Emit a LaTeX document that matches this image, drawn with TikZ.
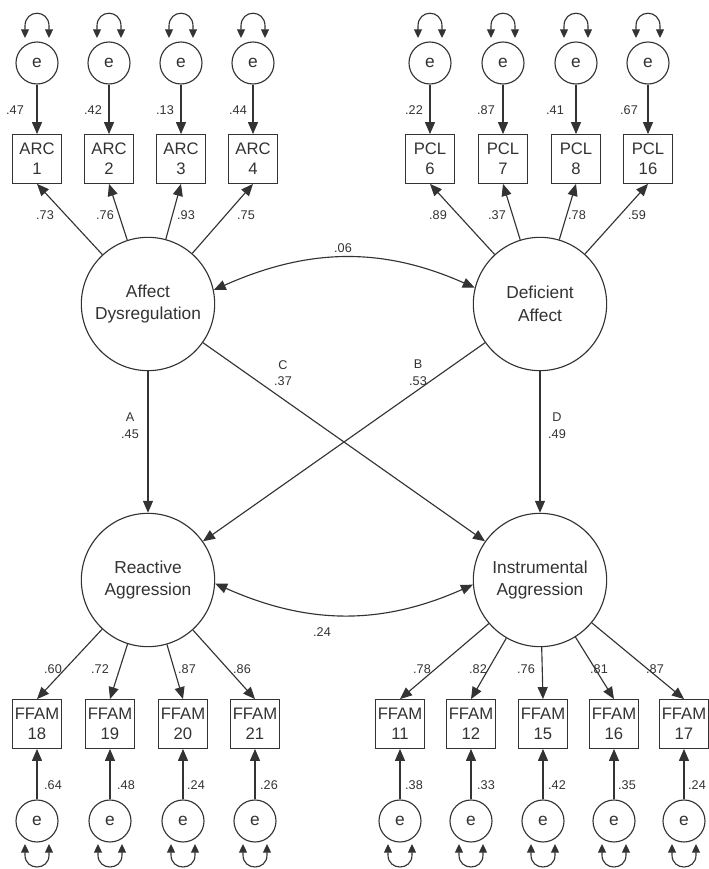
\documentclass[tikz,border=0pt]{standalone}
\usepackage{fontspec}
\setmainfont{Liberation Sans}
\usetikzlibrary{arrows.meta}
\begin{document}
\begin{tikzpicture}[x=0.75pt,y=0.75pt,
  line width=0.85pt, color=black!80,
  lat/.style={circle,draw,minimum size=100pt,inner sep=0pt,align=center,font=\fontsize{13}{17}\selectfont},
  errc/.style={circle,draw,minimum size=31.5pt,inner sep=0pt,font=\fontsize{13}{15}\selectfont},
  obs/.style={rectangle,draw,minimum width=36.5pt,minimum height=36.5pt,inner sep=0pt,align=center,font=\fontsize{12.5}{15}\selectfont},
  num/.style={font=\fontsize{9.5}{12.5}\selectfont,inner sep=1pt,align=center},
  arr/.style={-{Triangle[length=9pt,width=7.5pt]}},
  dbl/.style={{Triangle[length=9pt,width=7.5pt]}-{Triangle[length=9pt,width=7.5pt]}},
  loopar/.style={{Triangle[length=6.5pt,width=6pt]}-{Triangle[length=6.5pt,width=6pt]}}
]
\fill[white] (0,0) rectangle (709,869);
\useasboundingbox (0,0) rectangle (709,869);

% latent variables
\node[lat] (ad) at (148,565) {Affect\\Dysregulation};
\node[lat] (da) at (540,565) {Deficient\\Affect};
\node[lat] (ra) at (148,289) {Reactive\\Aggression};
\node[lat] (ia) at (540,289) {Instrumental\\Aggression};

% top indicators
\foreach \i/\x/\t in {1/37/1,2/109/2,3/181/3,4/253/4}{
  \node[errc] (ae\i) at (\x,806) {e};
  \node[obs] (ab\i) at (\x,710) {ARC\\\t};
  \draw[arr] (ae\i) -- (ab\i);
  \draw[arr] (ad) -- (ab\i.south);
  \draw[loopar] (\x-12,831) -- (\x-12,843) .. controls (\x-12,860) and (\x+12,860) .. (\x+12,843) -- (\x+12,831);
}
\foreach \i/\x/\t in {1/430/6,2/503/7,3/576/8,4/648/16}{
  \node[errc] (pe\i) at (\x,806) {e};
  \node[obs] (pb\i) at (\x,710) {PCL\\\t};
  \draw[arr] (pe\i) -- (pb\i);
  \draw[arr] (da) -- (pb\i.south);
  \draw[loopar] (\x-12,831) -- (\x-12,843) .. controls (\x-12,860) and (\x+12,860) .. (\x+12,843) -- (\x+12,831);
}

% bottom indicators
\foreach \i/\x/\t in {1/37/18,2/110/19,3/183/20,4/255/21}{
  \node[obs] (rb\i) at (\x,145) {FFAM\\\t};
  \node[errc] (re\i) at (\x,48) {e};
  \draw[arr] (re\i) -- (rb\i);
  \draw[arr] (ra) -- (rb\i.north);
  \draw[loopar] (\x-12,25) -- (\x-12,14) .. controls (\x-12,-2) and (\x+12,-2) .. (\x+12,14) -- (\x+12,25);
}
\foreach \i/\x/\t in {1/400/11,2/471/12,3/543/15,4/614/16,5/684/17}{
  \node[obs] (ib\i) at (\x,145) {FFAM\\\t};
  \node[errc] (ie\i) at (\x,48) {e};
  \draw[arr] (ie\i) -- (ib\i);
  \draw[arr] (ia) -- (ib\i.north);
  \draw[loopar] (\x-12,25) -- (\x-12,14) .. controls (\x-12,-2) and (\x+12,-2) .. (\x+12,14) -- (\x+12,25);
}

% structural paths
\draw[arr] (ad) -- (ra);
\draw[arr] (da) -- (ia);
\draw[arr] (ad) -- (ia);
\draw[arr] (da) -- (ra);
\draw[dbl] (ad.12) to[out=24,in=156] (da.166);
\draw[dbl] (ra.-3) to[out=-24,in=-156] (ia.184);

% labels: top error variances
\foreach \n/\x/\v in {1/15/.47,2/93/.42,3/165/.13,4/238/.44,5/414/.22,6/486/.87,7/555/.41,8/629/.67}
  \node[num] (tev\n) at (\x,759) {\v};
% labels: top loadings
\foreach \n/\x/\v in {1/45/.73,2/105/.76,3/186/.93,4/246/.75,5/438/.89,6/497/.37,7/577/.78,8/637/.59}
  \node[num] (tld\n) at (\x,654) {\v};
% labels: bottom loadings
\foreach \n/\x/\v in {1/53/.60,2/100/.72,3/187/.87,4/242/.86,5/422/.78,6/478/.82,7/526/.76,8/599/.81,9/655/.87}
  \node[num] (bld\n) at (\x,200) {\v};
% labels: bottom error variances
\foreach \n/\x/\v in {1/53/.64,2/126/.48,3/196/.24,4/269/.26,5/414/.38,6/486/.33,7/557/.42,8/627/.35,9/697/.24}
  \node[num] (bev\n) at (\x,84) {\v};

% structural labels
\node[num] (l06) at (343,621) {.06};
\node[num] (l24) at (322,237) {.24};
\node[num] (lA) at (130,443) {A\\.45};
\node[num] (lD) at (557,443) {D\\.49};
\node[num] (lC) at (283,496) {C\\.37};
\node[num] (lB) at (418,496) {B\\.53};
\end{tikzpicture}
\end{document}
